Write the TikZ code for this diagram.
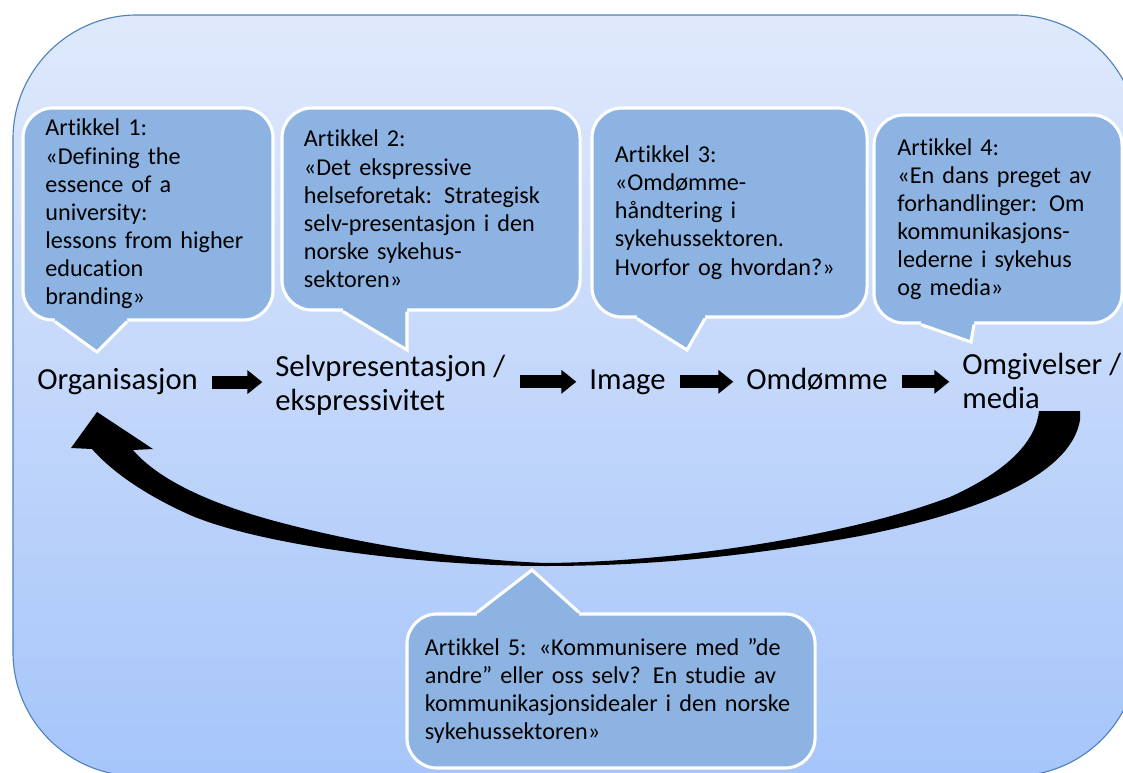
\documentclass[tikz,border=0pt]{standalone}
\usepackage{fontspec}
\setmainfont{Carlito}[Ligatures=NoCommon]
\usetikzlibrary{arrows.meta}

\definecolor{bgtop}{RGB}{223,233,251}
\definecolor{bgbot}{RGB}{166,197,250}
\definecolor{boxfill}{RGB}{141,179,226}
\definecolor{frameblue}{RGB}{79,129,189}

\begin{document}
\begin{tikzpicture}[
  x=0.025cm, y=-0.025cm,
  callout/.style={draw=white, line width=2.2pt, fill=boxfill, rounded corners=0.75cm,
                  align=left, inner ysep=0pt, font=\fontsize{17.2}{20}\selectfont},
  lbl/.style={inner sep=0pt, align=left, font=\fontsize{21.8}{24}\selectfont},
  blockarr/.style={-{Triangle[length=10.7pt, width=16.4pt]}, line width=9.2pt,
                   shorten <=10pt, shorten >=9pt},
  tailedge/.style={white, line width=2.2pt},
]

\useasboundingbox (0,0) rectangle (1123,773);
\clip (0,0) rectangle (1123,773);

%% Background panel
\draw[frameblue, line width=0.8pt, top color=bgtop, bottom color=bgbot,
      rounded corners=3.1cm] (13,15) rectangle (1138,776);

%% Article callouts
\node[callout, minimum width=6.25cm, minimum height=5.3cm, text width=5.13cm,
      inner xsep=0.56cm] (c1) at (148,214)
  {Artikkel 1:\\«Defining the\\essence of a\\university:\\lessons from higher\\education\\branding»};
\node[callout, minimum width=7.45cm, minimum height=5.05cm, text width=6.35cm,
      inner xsep=0.55cm] (c2) at (431,209)
  {Artikkel 2:\\«Det ekspressive\\helseforetak: Strategisk\\selv-presentasjon i den\\norske sykehus-\\sektoren»};
\node[callout, minimum width=6.875cm, minimum height=5.225cm, text width=5.725cm,
      inner xsep=0.575cm] (c3) at (729.5,212.5)
  {Artikkel 3:\\«Omdømme-\\håndtering i\\sykehussektoren.\\Hvorfor og hvordan?»};
\node[callout, minimum width=6.2cm, minimum height=5.2cm, text width=5.025cm,
      inner xsep=0.5875cm] (c4) at (998,219)
  {Artikkel 4:\\«En dans preget av\\forhandlinger: Om\\kommunikasjons-\\lederne i sykehus\\og media»};
\node[callout, minimum width=10.2cm, minimum height=3.85cm, text width=9.3cm,
      inner xsep=0.45cm] (c5) at (611,691)
  {Artikkel 5: «Kommunisere med ”de\\andre” eller oss selv? En studie av\\kommunikasjonsidealer i den norske\\sykehussektoren»};

% callout tails (base left / base right / tip)
\foreach \n/\a/\b/\tx/\ty in {c1/55/127/97/352, c2/343/407/407/350,
                              c3/637/705/687/350, c4/921/974/971/342} {
  \fill[boxfill] ([yshift=3pt]\a,0 |- \n.south) -- (\a,0 |- \n.south) -- (\tx,\ty)
    -- (\b,0 |- \n.south) -- ([yshift=3pt]\b,0 |- \n.south) -- cycle;
  \draw[tailedge] (\a,0 |- \n.south) -- (\tx,\ty) -- (\b,0 |- \n.south);
}
\fill[boxfill] ([yshift=-3pt]477,0 |- c5.north) -- (477,0 |- c5.north) -- (532,570)
  -- (579,0 |- c5.north) -- ([yshift=-3pt]579,0 |- c5.north) -- cycle;
\draw[tailedge] (477,0 |- c5.north) -- (532,570) -- (579,0 |- c5.north);

%% Chain of concepts
\node[lbl, anchor=base west] (org) at (37,390) {Organisasjon};
\node[lbl, anchor=west] (selv) at (275,385) {Selvpresentasjon /\\ekspressivitet};
\node[lbl, anchor=base west] (img) at (589,389) {Image};
\node[lbl, anchor=base west] (omd) at (746,389) {Omdømme};
\node[lbl, anchor=west] (omg) at (962,381) {Omgivelser /\\media};

\draw[blockarr] (org.east) -- (org.east -| selv.west);
\draw[blockarr] (selv.east |- img.west) -- (img.west);
\draw[blockarr] (img.east) -- (img.east -| omd.west);
\draw[blockarr] (img.east -| omd.east) -- (img.east -| omg.west);

%% Feedback arrow back to the organisation
\fill[black] (1039,411) -- (1080,411) -- (1080,420)
  .. controls (1072,468) and (1000,508) .. (860,536)
  .. controls (740,558) and (640,566) .. (545,566)
  .. controls (420,566) and (260,545) .. (190,515)
  .. controls (150,497) and (115,475) .. (92,449)
  -- (71,448) -- (97,412) -- (153,449) -- (133,450)
  .. controls (150,470) and (190,500) .. (290,525)
  .. controls (380,548) and (470,560) .. (545,563)
  .. controls (680,562) and (850,535) .. (950,497)
  .. controls (1010,470) and (1036,440) .. (1039,411) -- cycle;

\end{tikzpicture}
\end{document}
